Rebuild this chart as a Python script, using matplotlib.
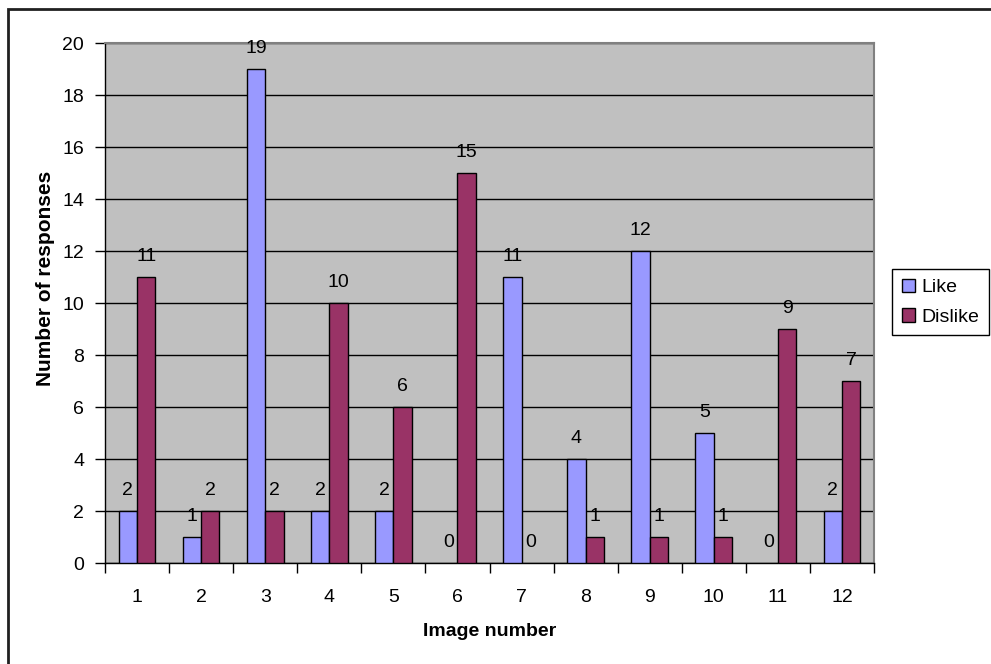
import numpy as np
import matplotlib
matplotlib.use("Agg")
import matplotlib.pyplot as plt
from matplotlib.patches import Rectangle, Patch

plt.rcParams['font.family'] = ['Liberation Sans', 'DejaVu Sans']

# survey counts per image
images = [str(i) for i in range(1, 13)]
like = [2, 1, 19, 2, 2, 0, 11, 4, 12, 5, 0, 2]
dislike = [11, 2, 2, 10, 6, 15, 0, 1, 1, 1, 9, 7]
series_names = ['Like', 'Dislike']
y_ticks = list(range(0, 21, 2))

LIKE_C = '#9999FF'
DISLIKE_C = '#993366'
FS = 14

W, H = 991, 664
fig = plt.figure(figsize=(W / 100, H / 100), dpi=100)
fig.patch.set_facecolor('white')

# outer chart border
fig.patches.append(Rectangle((8 / W, -0.05), 1.1, (H - 9) / H + 0.05,
                             transform=fig.transFigure, fill=False,
                             edgecolor='#202020', linewidth=2, zorder=0))

left, right, top, bottom = 105, 874, 43, 563
ax = fig.add_axes([left / W, (H - bottom) / H, (right - left) / W, (bottom - top) / H])
ax.set_facecolor('#C0C0C0')

x = np.arange(len(images))
bw = 1 / 3.5
b1 = ax.bar(x - bw / 2, like, bw, color=LIKE_C, edgecolor='black', linewidth=1, zorder=3)
b2 = ax.bar(x + bw / 2, dislike, bw, color=DISLIKE_C, edgecolor='black', linewidth=1, zorder=3)

for bars, vals in ((b1, like), (b2, dislike)):
    for r, v in zip(bars, vals):
        if v == 0:
            r.set_linewidth(0)  # no outline for empty bars
        ax.annotate(str(v), (r.get_x() + r.get_width() / 2, v),
                    xytext=(0, 11.5), textcoords='offset points',
                    ha='center', va='baseline', fontsize=FS, zorder=4)

ax.set_xlim(-0.5, len(images) - 0.5)
ax.set_ylim(0, 20)
ax.set_yticks(y_ticks)
ax.yaxis.grid(True, color='black', linewidth=1, zorder=1)
ax.set_axisbelow(True)

ax.set_xticks(x)
ax.set_xticklabels(images)
ax.set_xticks(np.arange(-0.5, len(images)), minor=True)
ax.tick_params(axis='x', which='major', length=0, pad=19, labelsize=FS)
ax.tick_params(axis='x', which='minor', length=7, width=1, color='black')
ax.tick_params(axis='y', length=7, width=1, color='black', pad=8, labelsize=FS)

for s in ('top', 'right'):
    ax.spines[s].set_color('#808080')
    ax.spines[s].set_linewidth(1.5)
for s in ('left', 'bottom'):
    ax.spines[s].set_color('black')
    ax.spines[s].set_linewidth(1)

fig.text((left + right) / 2 / W, 1 - 632 / H, 'Image number', ha='center', va='center',
         fontsize=14, fontweight='bold')
fig.text(46 / W, 1 - 278 / H, 'Number of responses', ha='center', va='center',
         rotation=90, fontsize=15, fontweight='bold')

handles = [Patch(facecolor=LIKE_C, edgecolor='black'), Patch(facecolor=DISLIKE_C, edgecolor='black')]
leg = fig.legend(handles, series_names, loc='upper left',
                 bbox_to_anchor=(892 / W, 1 - 269 / H), fontsize=FS,
                 frameon=True, fancybox=False, framealpha=1, edgecolor='black',
                 handlelength=0.7, handleheight=0.7, handletextpad=0.3,
                 labelspacing=0.6, borderpad=0.5, borderaxespad=0)
leg.get_frame().set_linewidth(1)

fig.savefig('out.png', dpi=100)
